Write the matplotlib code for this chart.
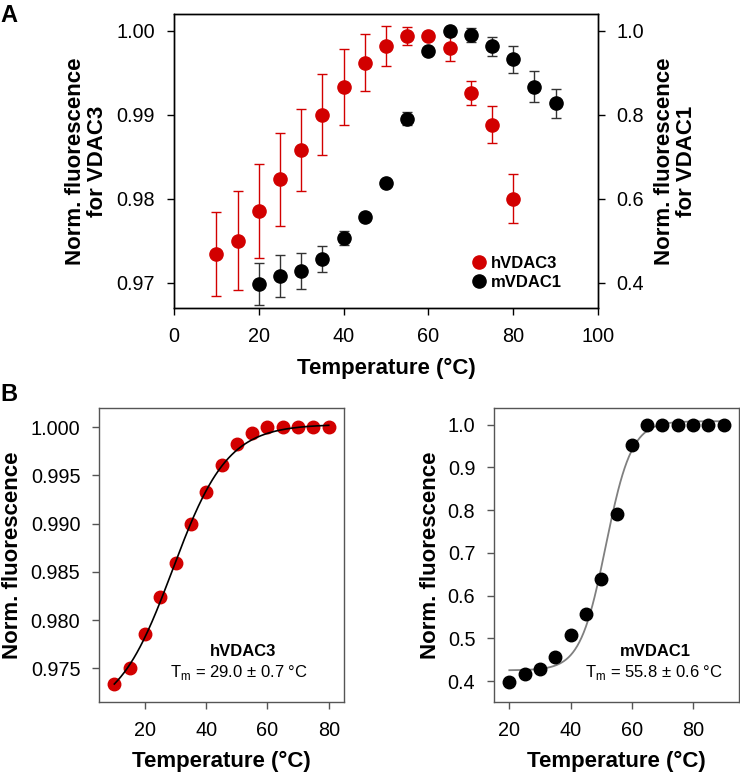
import numpy as np
import matplotlib
matplotlib.use('Agg')
import matplotlib.pyplot as plt

plt.rcParams['font.family'] = ['Liberation Sans', 'DejaVu Sans']
plt.rcParams['mathtext.fontset'] = 'custom'
plt.rcParams['mathtext.rm'] = 'Liberation Sans'

RED = '#d20000'

# panel A: hVDAC3 (left axis) and mVDAC1 (right axis), mean +- error
temp_h3 = [10, 15, 20, 25, 30, 35, 40, 45, 50, 55, 60, 65, 70, 75, 80]
fluo_h3 = [0.9734, 0.9750, 0.9785, 0.9823, 0.9858, 0.9900, 0.9933, 0.9962,
           0.9982, 0.9994, 0.9994, 0.9979, 0.9926, 0.9888, 0.9800]
err_h3 = [0.0050, 0.0059, 0.0056, 0.0055, 0.0049, 0.0048, 0.0045, 0.0034,
          0.0024, 0.0011, 0.0002, 0.0015, 0.0014, 0.0022, 0.0029]

temp_m1 = [20, 25, 30, 35, 40, 45, 50, 55, 60, 65, 70, 75, 80, 85, 90]
fluo_m1 = [0.398, 0.415, 0.428, 0.457, 0.506, 0.557, 0.638, 0.791, 0.953,
           1.000, 0.990, 0.963, 0.932, 0.867, 0.827]
err_m1 = [0.050, 0.050, 0.043, 0.031, 0.017, 0.005, 0.005, 0.015, 0.006,
          0.004, 0.017, 0.022, 0.032, 0.037, 0.034]

# panel B: normalised curves
temp_b_h3 = [10, 15, 20, 25, 30, 35, 40, 45, 50, 55, 60, 65, 70, 75, 80]
norm_b_h3 = [0.9734, 0.9750, 0.9785, 0.9824, 0.9859, 0.9900, 0.9933, 0.9961,
             0.9983, 0.9994, 1.0000, 1.0000, 1.0000, 1.0000, 1.0000]
temp_b_m1 = [20, 25, 30, 35, 40, 45, 50, 55, 60, 65, 70, 75, 80, 85, 90]
norm_b_m1 = [0.398, 0.417, 0.428, 0.457, 0.507, 0.557, 0.638, 0.791, 0.953,
             1.000, 1.000, 1.000, 1.000, 1.000, 1.000]

# Boltzmann fit parameters (bottom, top, midpoint, slope)
fit_h3 = (0.9701, 1.0003, 29.0, 9.0)
fit_m1 = (0.425, 1.008, 51.5, 4.2)

LABEL_FS = 16
TICK_FS = 14.3


def boltzmann(x, p):
    bottom, top, x0, dx = p
    return top + (bottom - top) / (1 + np.exp((x - x0) / dx))


def style(ax, color='black'):
    for s in ax.spines.values():
        s.set_color(color)
        s.set_linewidth(1.0)
    ax.tick_params(direction='out', length=5, width=1, pad=8.5,
                   labelsize=TICK_FS, color=color)


fig = plt.figure(figsize=(7.4, 7.76), dpi=100)

# ---------- panel A ----------
axA = fig.add_axes([0.2351, 0.6031, 0.573, 0.3789])
axA2 = axA.twinx()
axA.errorbar(temp_h3, fluo_h3, yerr=err_h3, fmt='o', color=RED, ms=9.5,
             elinewidth=1, capsize=3.3, capthick=1, label='hVDAC3')
axA2.errorbar(temp_m1, fluo_m1, yerr=err_m1, fmt='o', color='black', ms=9.5,
              ecolor='#333333', elinewidth=1, capsize=3.3, capthick=1,
              label='mVDAC1')
axA.set_xlim(0, 100)
axA.set_ylim(0.967, 1.002)
axA2.set_ylim(0.34, 1.04)
axA.set_xticks([0, 20, 40, 60, 80, 100])
axA.set_yticks([0.97, 0.98, 0.99, 1.00])
axA.set_yticklabels(['0.97', '0.98', '0.99', '1.00'])
axA2.set_yticks([0.4, 0.6, 0.8, 1.0])
axA2.set_yticklabels(['0.4', '0.6', '0.8', '1.0'])
style(axA)
style(axA2)
axA.set_ylabel('Norm. fluorescence\nfor VDAC3', fontsize=LABEL_FS,
               fontweight='bold', multialignment='center', linespacing=1.05)
axA.yaxis.set_label_coords(-0.156, 0.5)
axA2.set_ylabel('Norm. fluorescence\nfor VDAC1', fontsize=LABEL_FS,
                fontweight='bold', multialignment='center', rotation=90,
                va='top', linespacing=1.05)
axA2.yaxis.set_label_coords(1.133, 0.5)
axA.set_xlabel('Temperature (°C)', fontsize=LABEL_FS, fontweight='bold',
               va='top')
axA.xaxis.set_label_coords(0.5, -0.17)

h1, l1 = axA.get_legend_handles_labels()
h2, l2 = axA2.get_legend_handles_labels()
h1 = [h[0] for h in h1]
h2 = [h[0] for h in h2]
axA2.legend(h1 + h2, l1 + l2, loc='center', bbox_to_anchor=(0.81, 0.12),
            frameon=False, handlelength=0.8, handletextpad=0.3,
            labelspacing=0.25, borderpad=0.2,
            prop={'size': 12, 'weight': 'bold'})

fig.text(0.0, 0.995, 'A', fontsize=17, fontweight='bold', va='top', ha='left')
fig.text(0.0, 0.506, 'B', fontsize=17, fontweight='bold', va='top', ha='left')

GRAY_FRAME = '#555555'

# ---------- panel B left ----------
axB1 = fig.add_axes([0.1338, 0.0954, 0.3311, 0.3789])
xs = np.linspace(min(temp_b_h3), max(temp_b_h3), 200)
axB1.plot(xs, boltzmann(xs, fit_h3), color='black', lw=1.2, zorder=3)
axB1.plot(temp_b_h3, norm_b_h3, 'o', color=RED, ms=9, zorder=2)
axB1.set_xlim(5, 85)
axB1.set_ylim(0.9715, 1.002)
axB1.set_xticks([20, 40, 60, 80])
axB1.set_yticks([0.975, 0.980, 0.985, 0.990, 0.995, 1.000])
axB1.set_yticklabels(['0.975', '0.980', '0.985', '0.990', '0.995', '1.000'])
style(axB1, GRAY_FRAME)
axB1.tick_params(labelcolor='black')
axB1.set_ylabel('Norm. fluorescence', fontsize=LABEL_FS, fontweight='bold')
axB1.yaxis.set_label_coords(-0.312, 0.5)
axB1.set_xlabel('Temperature (°C)', fontsize=LABEL_FS, fontweight='bold',
                va='top')
axB1.xaxis.set_label_coords(0.5, -0.165)
axB1.text(0.588, 0.170, 'hVDAC3', transform=axB1.transAxes, fontsize=12,
          fontweight='bold', ha='center', va='center')
axB1.text(0.57, 0.099, r'T$_\mathregular{m}$ = 29.0 ± 0.7 °C',
          transform=axB1.transAxes, fontsize=12, ha='center', va='center')

# ---------- panel B right ----------
axB2 = fig.add_axes([0.6676, 0.0954, 0.3311, 0.3789])
xs = np.linspace(min(temp_b_m1), max(temp_b_m1), 200)
axB2.plot(xs, boltzmann(xs, fit_m1), color='#808080', lw=1.3, zorder=1)
axB2.plot(temp_b_m1, norm_b_m1, 'o', color='black', ms=9, zorder=2)
axB2.set_xlim(15, 95)
axB2.set_ylim(0.351, 1.039)
axB2.set_xticks([20, 40, 60, 80])
axB2.set_yticks([0.4, 0.5, 0.6, 0.7, 0.8, 0.9, 1.0])
axB2.set_yticklabels(['0.4', '0.5', '0.6', '0.7', '0.8', '0.9', '1.0'])
style(axB2, GRAY_FRAME)
axB2.tick_params(labelcolor='black')
axB2.set_ylabel('Norm. fluorescence', fontsize=LABEL_FS, fontweight='bold')
axB2.yaxis.set_label_coords(-0.216, 0.5)
axB2.set_xlabel('Temperature (°C)', fontsize=LABEL_FS, fontweight='bold',
                va='top')
axB2.xaxis.set_label_coords(0.5, -0.165)
axB2.text(0.657, 0.170, 'mVDAC1', transform=axB2.transAxes, fontsize=12,
          fontweight='bold', ha='center', va='center')
axB2.text(0.653, 0.099, r'T$_\mathregular{m}$ = 55.8 ± 0.6 °C',
          transform=axB2.transAxes, fontsize=12, ha='center', va='center')

fig.savefig('out.png', dpi=100)
